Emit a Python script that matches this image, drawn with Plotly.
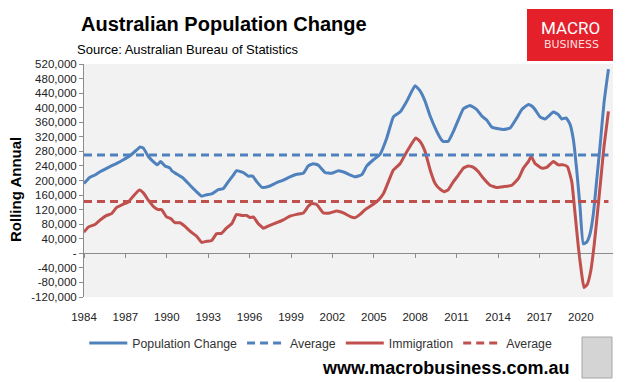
import plotly.graph_objects as go

# ---- data ----
pop_years = [1984.0, 1984.43, 1984.8, 1985.16, 1985.88, 1986.37, 1986.85, 1987.33, 1987.82, 1988.06,
             1988.3, 1988.66, 1989.02, 1989.31, 1989.55, 1989.87, 1990.23, 1990.38, 1990.71, 1991.2,
             1991.68, 1992.16, 1992.52, 1992.89, 1993.25, 1993.73, 1994.1, 1994.46, 1994.82, 1995.06,
             1995.54, 1995.9, 1996.22, 1996.51, 1996.9, 1997.47, 1997.96, 1998.44, 1998.92, 1999.41,
             1999.89, 2000.25, 2000.61, 2000.98, 2001.46, 2001.94, 2002.43, 2002.91, 2003.3, 2003.64,
             2004.13, 2004.49, 2004.97, 2005.45, 2005.94, 2006.42, 2006.9, 2007.39, 2007.99, 2008.35,
             2008.71, 2009.08, 2009.56, 2009.9, 2010.04, 2010.4, 2010.77, 2011.13, 2011.49, 2011.97,
             2012.46, 2012.82, 2013.18, 2013.54, 2014.03, 2014.39, 2014.87, 2015.36, 2015.72, 2016.2,
             2016.47, 2016.68, 2017.04, 2017.41, 2018.01, 2018.37, 2018.61, 2018.93, 2019.22, 2019.46,
             2019.7, 2019.94, 2020.18, 2020.43, 2020.67, 2020.91, 2021.15, 2021.39, 2021.68, 2022.0]
pop_values = [192, 209, 215, 224, 238, 247, 257, 268, 284, 292,
              289, 266, 252, 243, 252, 240, 234, 226, 218, 206,
              187, 169, 157, 161, 163, 175, 178, 197, 215, 227,
              222, 212, 212, 197, 181, 185, 194, 201, 210, 217,
              220, 240, 246, 242, 222, 220, 227, 222, 215, 210,
              216, 240, 257, 272, 317, 375, 388, 418, 460, 446,
              418, 377, 335, 312, 307, 308, 335, 367, 397, 406,
              395, 377, 366, 347, 342, 340, 344, 372, 395, 409,
              404, 395, 375, 369, 388, 381, 369, 372, 354, 312,
              229, 128, 26, 31, 54, 109, 201, 294, 414, 506]

imm_years = [1984.0, 1984.31, 1984.8, 1985.16, 1985.64, 1986.0, 1986.37, 1986.85, 1987.21, 1987.57,
             1988.01, 1988.3, 1988.66, 1989.02, 1989.38, 1989.62, 1989.98, 1990.3, 1990.59, 1990.95,
             1991.32, 1991.68, 1992.16, 1992.52, 1992.89, 1993.25, 1993.61, 1993.97, 1994.34, 1994.7,
             1995.06, 1995.42, 1995.79, 1996.03, 1996.27, 1996.63, 1996.9, 1997.0, 1997.47, 1997.96,
             1998.44, 1998.92, 1999.41, 1999.89, 2000.25, 2000.49, 2000.86, 2001.34, 2001.82, 2002.31,
             2002.79, 2003.3, 2003.64, 2004.0, 2004.37, 2004.85, 2005.33, 2005.7, 2006.06, 2006.42,
             2006.9, 2007.27, 2007.63, 2008.04, 2008.35, 2008.71, 2009.08, 2009.44, 2009.8, 2010.09,
             2010.4, 2010.77, 2011.13, 2011.49, 2011.85, 2012.22, 2012.58, 2012.94, 2013.42, 2013.91,
             2014.39, 2015.0, 2015.48, 2015.84, 2016.2, 2016.4, 2016.68, 2017.17, 2017.53, 2018.01,
             2018.37, 2018.73, 2019.03, 2019.34, 2019.58, 2019.82, 2020.06, 2020.23, 2020.47, 2020.72,
             2020.96, 2021.2, 2021.44, 2021.68, 2022.0]
imm_values = [58, 72, 79, 91, 104, 109, 126, 135, 141, 157,
              174, 166, 146, 129, 120, 120, 100, 95, 84, 84,
              74, 61, 47, 30, 33, 35, 54, 55, 70, 81,
              107, 104, 104, 98, 100, 81, 72, 69, 77, 84,
              92, 102, 107, 111, 129, 137, 134, 111, 111, 116,
              111, 101, 98, 107, 120, 132, 146, 164, 197, 229,
              246, 271, 294, 317, 307, 280, 229, 192, 176, 169,
              175, 197, 215, 234, 240, 236, 224, 206, 187, 181,
              183, 187, 206, 234, 252, 266, 247, 234, 236, 252,
              243, 243, 238, 197, 109, 17, -57, -94, -85, -48,
              21, 109, 201, 294, 390]

pop_average = 270
imm_average = 142

x_tick_labels = ["1984", "1987", "1990", "1993", "1996", "1999", "2002",
                 "2005", "2008", "2011", "2014", "2017", "2020"]
y_tick_values = [-120, -80, -40, 0, 40, 80, 120, 160, 200, 240, 280, 320, 360, 400, 440, 480, 520]

BLUE = "#4f81bd"
RED = "#c0504d"
AXIS = "#8c8c8c"
FONT = "Liberation Sans, Arial, sans-serif"

def k(v):
    return [x * 1000 for x in v]

fig = go.Figure()
fig.add_trace(go.Scatter(x=pop_years, y=k(pop_values), mode="lines", name="Population Change",
                         line=dict(color=BLUE, width=3, shape="spline", smoothing=0.4)))
fig.add_trace(go.Scatter(x=[pop_years[0], pop_years[-1]], y=k([pop_average, pop_average]),
                         mode="lines", name="Average", xaxis="x2",
                         line=dict(color=BLUE, width=3, dash="8px,5px")))
fig.add_trace(go.Scatter(x=imm_years, y=k(imm_values), mode="lines", name="Immigration",
                         line=dict(color=RED, width=3, shape="spline", smoothing=0.4)))
fig.add_trace(go.Scatter(x=[imm_years[0], imm_years[-1]], y=k([imm_average, imm_average]),
                         mode="lines", name="Average", xaxis="x2",
                         line=dict(color=RED, width=3, dash="8px,5px")))

tickvals_x = [int(t) for t in x_tick_labels]
ymin, ymax = y_tick_values[0] * 1000, y_tick_values[-1] * 1000
zero_pos = (0 - ymin) / (ymax - ymin)
x_range = [1984, 2022.33]

def fmt(v):
    if v == 0:
        return "-"
    return f"{v * 1000:,}"

fig.update_layout(
    width=629, height=382,
    margin=dict(l=84, r=16, t=64, b=85, autoexpand=False),
    paper_bgcolor="white",
    plot_bgcolor="#f2f2f2",
    font=dict(family=FONT, size=11.5, color="#222"),
    showlegend=True,
    legend=dict(orientation="h", xref="container", yref="container",
                x=0.51, xanchor="center", y=1 - 343 / 382, yanchor="middle",
                font=dict(size=12.3, color="#333"), bgcolor="rgba(0,0,0,0)",
                itemwidth=38, tracegroupgap=0),
    # main x axis: labels at the bottom
    xaxis=dict(range=x_range, anchor="y", side="bottom", automargin=False,
               tickvals=tickvals_x, ticktext=x_tick_labels, showticklabels=True,
               ticks="outside", ticklen=9, tickcolor="rgba(0,0,0,0)",
               showgrid=False, showline=False, zeroline=False,
               tickfont=dict(size=11.5, color="#222")),
    # overlay x axis: tick marks along the zero line
    xaxis2=dict(range=x_range, overlaying="x", matches="x", anchor="free", position=zero_pos,
                automargin=False,
                tickvals=tickvals_x, ticktext=x_tick_labels, showticklabels=False,
                ticks="outside", ticklen=4, tickcolor=AXIS, showgrid=False,
                showline=False, zeroline=False),
    yaxis=dict(range=[ymin, ymax], tickvals=[v * 1000 for v in y_tick_values], automargin=False,
               ticktext=[fmt(v) for v in y_tick_values], ticks="outside", ticklen=4,
               tickcolor=AXIS, showline=True, linecolor=AXIS, linewidth=1,
               showgrid=False, zeroline=True, zerolinecolor=AXIS, zerolinewidth=1,
               tickfont=dict(size=11.5, color="#222")),
)

# Title & source
fig.add_annotation(text="<b>Australian Population Change</b>", xref="paper", yref="paper",
                   x=(79 - 84) / 529, y=1 + (64 - 24) / 233, xanchor="left", yanchor="middle",
                   showarrow=False, font=dict(size=20, color="black", family=FONT))
fig.add_annotation(text="Source: Australian Bureau of Statistics", xref="paper", yref="paper",
                   x=(75 - 84) / 529, y=1 + (64 - 49) / 233, xanchor="left", yanchor="middle",
                   showarrow=False, font=dict(size=13, color="black", family=FONT))
# Y axis title
fig.add_annotation(text="<b>Rolling Annual</b>", xref="paper", yref="paper",
                   x=(15 - 84) / 529, y=1 - (190 - 64) / 233, textangle=-90,
                   xanchor="center", yanchor="middle", showarrow=False,
                   font=dict(size=15, color="black", family=FONT))

# Logo
fig.add_shape(type="rect", xref="paper", yref="paper",
              x0=(527 - 84) / 529, x1=(613 - 84) / 529,
              y0=1 + (64 - 61) / 233, y1=1 + (64 - 9) / 233,
              fillcolor="#e4202a", line=dict(width=0), layer="above")
fig.add_annotation(text="MACRO", xref="paper", yref="paper",
                   x=(570 - 84) / 529, y=1 + (64 - 28) / 233, xanchor="center", yanchor="middle",
                   showarrow=False, font=dict(size=17, color="white", family="Roboto, sans-serif"))
fig.add_annotation(text="BUSINESS", xref="paper", yref="paper",
                   x=(571 - 84) / 529, y=1 + (64 - 45) / 233, xanchor="center", yanchor="middle",
                   showarrow=False,
                   font=dict(size=11, color="rgba(255,235,235,0.95)", family="DejaVu Sans, sans-serif"))

# Footer
fig.add_annotation(text="<b>www.macrobusiness.com.au</b>", xref="paper", yref="paper",
                   x=(445 - 84) / 529, y=-(368 - 297) / 233, xanchor="center", yanchor="middle",
                   showarrow=False, font=dict(size=18, color="black", family=FONT))
# Wolf badge placeholder box
fig.add_shape(type="rect", xref="paper", yref="paper",
              x0=(582 - 84) / 529, x1=(612 - 84) / 529,
              y0=-(378 - 297) / 233, y1=-(337 - 297) / 233,
              fillcolor="#d4d4d4", line=dict(color="#a6a6a6", width=1))

fig.write_html("out.html", config={"displayModeBar": False},
               post_script="document.body.style.margin='0';")
